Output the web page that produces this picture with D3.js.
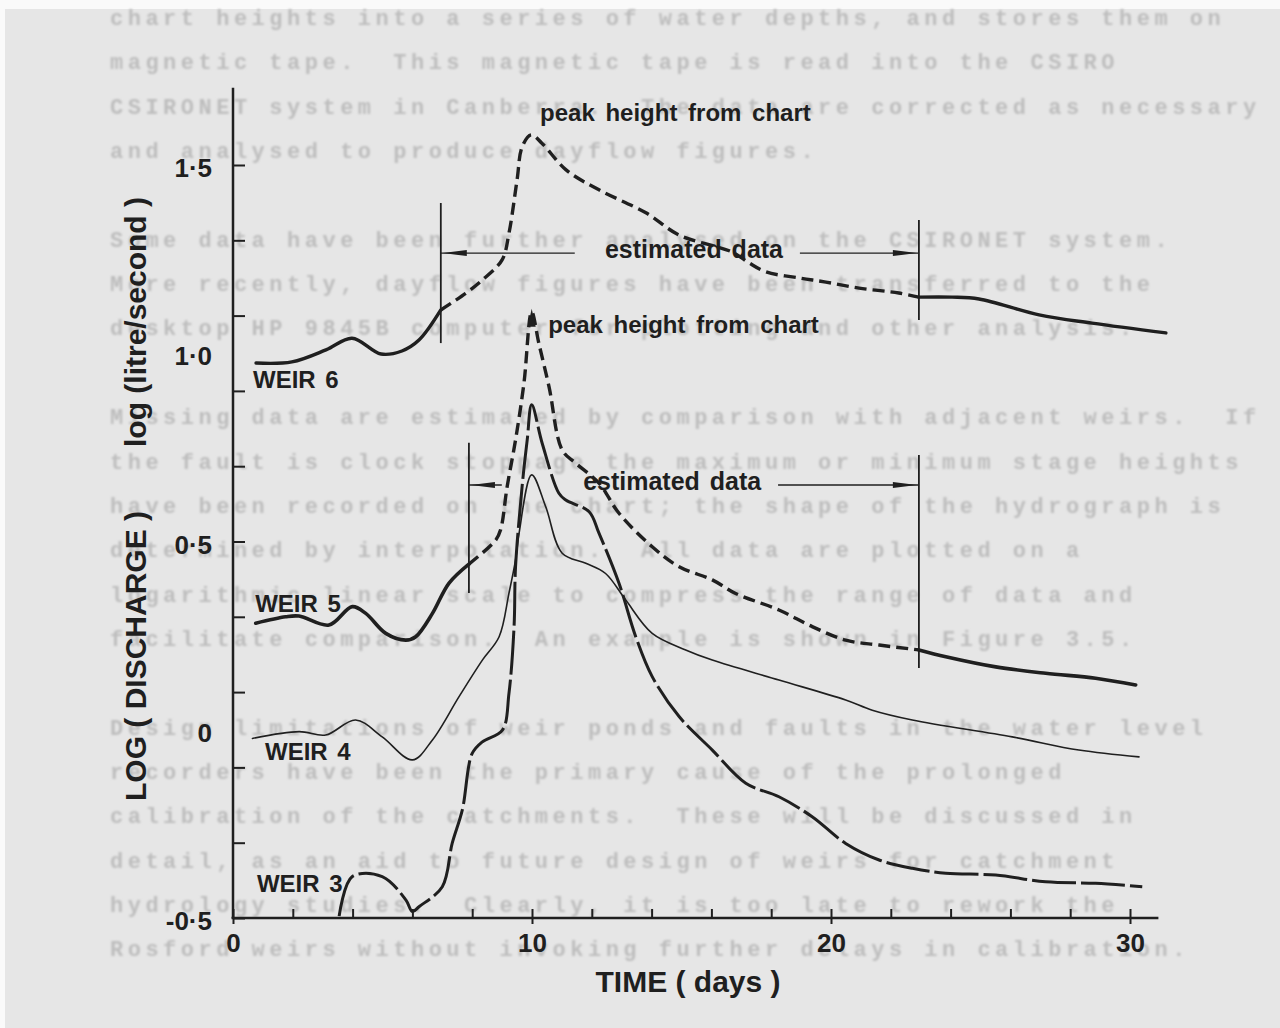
<!DOCTYPE html>
<html>
<head>
<meta charset="utf-8">
<script src="https://cdn.jsdelivr.net/npm/d3@7"></script>
<style>
html,body{margin:0;padding:0;background:#fff;}
svg{display:block;}
</style>
</head>
<body>
<div id="chart"></div>
<script>
const w = 1280;
const h = 1028;
const ink = "#1f1f1f";
const font = "'Liberation Sans', Arial, Helvetica, sans-serif";

// time (days) and log10 discharge (litre/second)
const weir6Recorded = [[0.77,0.974],[1.97,0.977],[3.11,1.009],[3.98,1.040],[4.95,0.998],[5.65,1.006],[6.22,1.035],[6.95,1.115]];
const weir6Estimated = [[6.95,1.115],[7.78,1.159],[8.33,1.194],[9.0,1.248],[9.23,1.319],[9.50,1.460],[9.67,1.548],[9.97,1.580],[10.33,1.558],[11.14,1.487],[12.24,1.434],[13.81,1.373],[14.92,1.314],[16.69,1.269],[17.26,1.240],[17.83,1.216],[18.93,1.200],[19.83,1.189],[20.94,1.173],[22.27,1.160],[22.94,1.149]];
const weir6Later = [[22.94,1.149],[24.05,1.149],[24.95,1.144],[26.96,1.102],[28.73,1.080],[31.2,1.054]];

const weir5Recorded = [[0.76,0.283],[1.76,0.300],[2.21,0.302],[3.21,0.278],[3.99,0.327],[4.44,0.309],[5.11,0.256],[5.78,0.238],[6.11,0.247],[6.67,0.309],[7.22,0.389],[7.89,0.440]];
const weir5Estimated = [[7.89,0.440],[8.79,0.504],[8.95,0.531],[9.17,0.646],[9.45,0.770],[9.73,0.920],[9.99,1.110],[10.23,1.026],[10.57,0.911],[11.01,0.743],[11.46,0.708],[12.24,0.655],[12.91,0.575],[14.02,0.486],[14.92,0.433],[16.03,0.398],[16.81,0.362],[18.26,0.318],[19.37,0.274],[20.49,0.238],[21.61,0.225],[22.94,0.212]];
const weir5Later = [[22.94,0.212],[23.84,0.194],[25.51,0.167],[27.18,0.150],[28.85,0.137],[30.19,0.119]];

const weir4 = [[0.65,-0.023],[2.21,-0.005],[3.10,-0.014],[4.10,0.026],[4.99,-0.019],[6.00,-0.080],[6.67,-0.027],[7.56,0.088],[8.34,0.185],[8.90,0.247],[9.23,0.363],[9.45,0.451],[9.57,0.523],[9.99,0.677],[10.46,0.592],[11.01,0.469],[11.80,0.442],[12.46,0.415],[13.13,0.345],[14.02,0.256],[15.14,0.212],[16.03,0.185],[18.26,0.132],[20.49,0.079],[21.38,0.052],[22.72,0.026],[26.06,-0.019],[28.29,-0.054],[30.30,-0.072]];

const weir3 = [[3.55,-0.495],[3.99,-0.390],[4.99,-0.390],[5.78,-0.452],[6.00,-0.483],[6.22,-0.470],[7.00,-0.417],[7.33,-0.302],[7.67,-0.213],[8.00,-0.063],[8.34,-0.032],[9.01,-0.001],[9.23,0.097],[9.40,0.274],[9.45,0.433],[9.68,0.655],[9.84,0.770],[9.99,0.863],[10.34,0.761],[10.90,0.628],[11.13,0.610],[11.91,0.579],[12.24,0.522],[12.91,0.389],[13.47,0.247],[14.02,0.141],[14.92,0.035],[16.03,-0.054],[17.15,-0.142],[18.26,-0.178],[19.37,-0.231],[20.49,-0.302],[21.61,-0.346],[22.72,-0.368],[23.84,-0.381],[25.51,-0.386],[27.18,-0.404],[28.85,-0.408],[30.41,-0.417]];

// axis ticks
const xTicks = d3.range(0, 31, 2);
const xLabels = [0, 10, 20, 30];
const yTicks = [-0.5,-0.3,-0.1,0.1,0.3,0.5,0.7,0.9,1.1,1.3,1.5];
const yLabels = [-0.5, 0, 0.5, 1.0, 1.5];

// estimated-data spans (weir 6, weir 5), days / log units
const spanStart = [6.95, 7.89];
const spanEnd = [22.94, 22.94];
const arrowLevel = [1.266, 0.650];
const leftArrowTo = [11.43, 8.99];
const rightArrowFrom = [18.96, 18.23];
const spanTextAt = [12.44, 11.71];
const leftMark = [[1.027, 1.399], [0.363, 0.762]];
const rightMark = [[1.088, 1.354], [0.164, 0.730]];

const weirNames = ["WEIR 6", "WEIR 5", "WEIR 4", "WEIR 3"];
const weirNameAt = [[0.67,0.908],[0.74,0.313],[1.07,-0.081],[0.80,-0.431]];
const peakNoteAt = [[10.27,1.617],[10.54,1.054]];

// show-through typing from the back of the page
const pageLines = [
"chart heights into a series of water depths, and stores them on",
"magnetic tape.  This magnetic tape is read into the CSIRO",
"CSIRONET system in Canberra.  The data are corrected as necessary",
"and analysed to produce dayflow figures.",
"",
"Some data have been further analysed on the CSIRONET system.",
"More recently, dayflow figures have been transferred to the",
"desktop HP 9845B computer for plotting and other analysis.",
"",
"Missing data are estimated by comparison with adjacent weirs.  If",
"the fault is clock stoppage the maximum or minimum stage heights",
"have been recorded on the chart; the shape of the hydrograph is",
"determined by interpolation.  All data are plotted on a",
"logarithmic-linear scale to compress the range of data and",
"facilitate comparison.  An example is shown in Figure 3.5.",
"",
"Design limitations of weir ponds and faults in the water level",
"recorders have been the primary cause of the prolonged",
"calibration of the catchments.  These will be discussed in",
"detail, as an aid to future design of weirs for catchment",
"hydrology studies.  Clearly, it is too late to rework the",
"Rosford weirs without invoking further delays in calibration."
];

var svg = d3.select("#chart")
            .append("svg")
            .attr("width", w)
            .attr("height", h);

svg.append("defs")
   .append("filter")
   .attr("id", "soft")
   .append("feGaussianBlur")
   .attr("stdDeviation", 0.8);

svg.append("rect").attr("width", w).attr("height", h).attr("fill", "#fafafa");
svg.append("rect").attr("x", 5).attr("y", 9).attr("width", w - 5).attr("height", h - 9).attr("fill", "#e6e6e6");

svg.append("g")
   .attr("filter", "url(#soft)")
   .selectAll("text")
   .data(pageLines)
   .enter()
   .append("text")
   .attr("x", 110)
   .attr("y", (d, i) => 25 + i * 44.35)
   .attr("font-family", "'Liberation Mono', monospace")
   .attr("font-weight", "bold")
   .attr("font-size", 22)
   .attr("letter-spacing", 4.5)
   .attr("fill", "#bdbdbd")
   .style("white-space", "pre")
   .text(d => d);

var x = d3.scaleLinear().domain([0, 30]).range([233, 1130]);
var y = d3.scaleLinear().domain([-0.5, 1.5]).range([918, 165]);

const fmt = v => v === 0 ? "0" : d3.format(".1f")(v).replace("\u2212", "-").replace(".", "\u00b7");

function styleText(sel, size) {
  sel.attr("font-family", font).attr("font-weight", "bold").attr("font-size", size).attr("fill", ink);
}

// y axis
svg.append("g")
   .attr("transform", "translate(" + x(0) + ",0)")
   .call(d3.axisLeft(y).tickValues(yTicks).tickSize(-12).tickFormat(""))
   .call(g => g.select(".domain").remove())
   .call(g => g.selectAll("line").attr("stroke", ink).attr("stroke-width", 2));

svg.append("g")
   .attr("transform", "translate(" + x(0) + ",0)")
   .call(d3.axisLeft(y).tickValues(yLabels).tickSize(0).tickPadding(21).tickFormat(fmt))
   .call(g => g.select(".domain").remove())
   .call(g => g.selectAll("text").call(styleText, 26).attr("dy", "0.45em"));

svg.append("line")
   .attr("x1", x(0)).attr("x2", x(0))
   .attr("y1", y(-0.5)).attr("y2", y(1.705))
   .attr("stroke", ink).attr("stroke-width", 2.5);

// x axis
svg.append("g")
   .attr("transform", "translate(0," + y(-0.5) + ")")
   .call(d3.axisBottom(x).tickValues(xTicks).tickSize(-9).tickFormat(""))
   .call(g => g.select(".domain").remove())
   .call(g => g.selectAll("line").attr("stroke", ink).attr("stroke-width", 2));

svg.append("g")
   .attr("transform", "translate(0," + y(-0.5) + ")")
   .call(d3.axisBottom(x).tickValues(xLabels).tickSize(6).tickPadding(10).tickFormat(d3.format("d")))
   .call(g => g.select(".domain").remove())
   .call(g => g.selectAll("line").attr("stroke", ink).attr("stroke-width", 2))
   .call(g => g.selectAll("text").call(styleText, 26));

svg.append("line")
   .attr("x1", x(-0.05)).attr("x2", x(30.95))
   .attr("y1", y(-0.5)).attr("y2", y(-0.5))
   .attr("stroke", ink).attr("stroke-width", 2.5);

// axis titles
svg.append("text")
   .attr("x", 688).attr("y", 992)
   .attr("text-anchor", "middle")
   .call(styleText, 30)
   .style("white-space", "pre")
   .text("TIME ( days )");

svg.append("text")
   .attr("transform", "translate(146,322) rotate(-90)")
   .attr("text-anchor", "middle")
   .call(styleText, 30)
   .style("white-space", "pre")
   .text("log (litre/second )");

svg.append("text")
   .attr("transform", "translate(146,656) rotate(-90)")
   .attr("text-anchor", "middle")
   .call(styleText, 30)
   .style("white-space", "pre")
   .text("LOG ( DISCHARGE )");

// hydrographs
var lineGen = d3.line()
                .x(d => x(d[0]))
                .y(d => y(d[1]))
                .curve(d3.curveCatmullRom.alpha(0.5));

var curves = [
  {data: weir6Recorded, width: 3.4},
  {data: weir6Estimated, width: 3.4, dash: "12,6"},
  {data: weir6Later, width: 3.4},
  {data: weir5Recorded, width: 3.6},
  {data: weir5Estimated, width: 3.4, dash: "12,6"},
  {data: weir5Later, width: 3.6},
  {data: weir4, width: 1.6},
  {data: weir3, width: 3, dash: "44,5"}
];

svg.append("g")
   .selectAll("path")
   .data(curves)
   .enter()
   .append("path")
   .attr("d", d => lineGen(d.data))
   .attr("fill", "none")
   .attr("stroke", ink)
   .attr("stroke-width", d => d.width)
   .attr("stroke-dasharray", d => d.dash || null)
   .attr("stroke-linecap", d => d.dash ? "butt" : "round")
   .attr("stroke-linejoin", "round");

// estimated-data markers
function arrowHead(tipX, tipY, dir) {
  var p = d3.path();
  p.moveTo(tipX, tipY);
  p.lineTo(tipX - dir * 24, tipY - 3);
  p.lineTo(tipX - dir * 24, tipY + 3);
  p.closePath();
  return p.toString();
}

var marks = svg.append("g");
spanStart.forEach(function (s, i) {
  var ly = y(arrowLevel[i]);
  marks.append("line")
       .attr("x1", x(s)).attr("x2", x(s))
       .attr("y1", y(leftMark[i][0])).attr("y2", y(leftMark[i][1]))
       .attr("stroke", ink).attr("stroke-width", 1.8);
  marks.append("line")
       .attr("x1", x(spanEnd[i])).attr("x2", x(spanEnd[i]))
       .attr("y1", y(rightMark[i][0])).attr("y2", y(rightMark[i][1]))
       .attr("stroke", ink).attr("stroke-width", 1.8);
  marks.append("line")
       .attr("x1", x(s)).attr("x2", x(leftArrowTo[i]))
       .attr("y1", ly).attr("y2", ly)
       .attr("stroke", ink).attr("stroke-width", 1.4);
  marks.append("line")
       .attr("x1", x(rightArrowFrom[i])).attr("x2", x(spanEnd[i]))
       .attr("y1", ly).attr("y2", ly)
       .attr("stroke", ink).attr("stroke-width", 1.4);
  marks.append("path").attr("d", arrowHead(x(s) + 2, ly, -1)).attr("fill", ink);
  marks.append("path").attr("d", arrowHead(x(spanEnd[i]) - 2, ly, 1)).attr("fill", ink);
  marks.append("text")
       .attr("x", x(spanTextAt[i])).attr("y", ly + 5)
       .call(styleText, 25)
       .style("word-spacing", "3px")
       .text("estimated data");
});

// peak notes
peakNoteAt.forEach(function (p) {
  svg.append("text")
     .attr("x", x(p[0])).attr("y", y(p[1]))
     .call(styleText, 24)
     .style("word-spacing", "4px")
     .text("peak height from chart");
});

var peak5 = weir5Estimated.reduce((a, b) => b[1] > a[1] ? b : a);
var pk = d3.path();
pk.moveTo(x(peak5[0]), y(peak5[1]) - 3);
pk.lineTo(x(peak5[0]) - 4, y(peak5[1]) + 15);
pk.lineTo(x(peak5[0]) + 4, y(peak5[1]) + 15);
pk.closePath();
svg.append("path").attr("d", pk.toString()).attr("fill", ink);

// weir names
svg.append("g")
   .selectAll("text")
   .data(weirNames)
   .enter()
   .append("text")
   .attr("x", (d, i) => x(weirNameAt[i][0]))
   .attr("y", (d, i) => y(weirNameAt[i][1]))
   .call(styleText, 24)
   .style("word-spacing", "3px")
   .text(d => d);
</script>
</body>
</html>
